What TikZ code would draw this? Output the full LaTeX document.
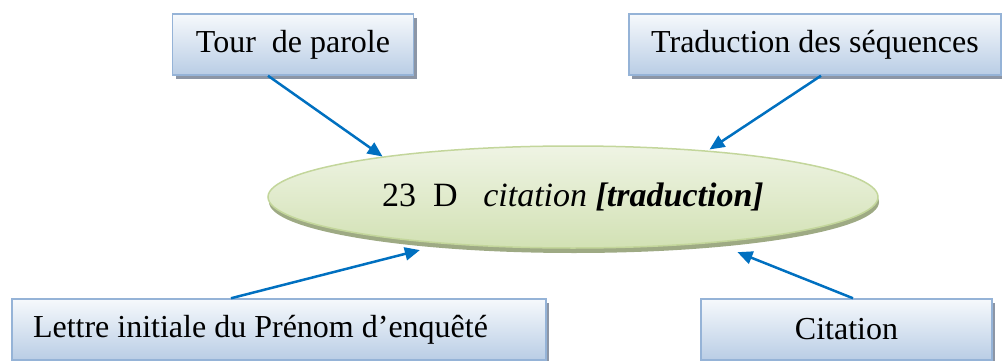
\documentclass[tikz,border=0pt]{standalone}
\usepackage{fontspec}
\setmainfont{Liberation Serif}
\usepackage{xcolor}
\usetikzlibrary{arrows.meta,shapes.geometric,shadows}

\definecolor{boxedge}{RGB}{149,179,215}
\definecolor{boxtop}{RGB}{246,249,252}
\definecolor{boxbot}{RGB}{185,205,229}
\definecolor{boxshade}{RGB}{140,150,166}
\definecolor{ovaledge}{RGB}{195,214,155}
\definecolor{ovaltop}{RGB}{239,244,228}
\definecolor{ovalbot}{RGB}{210,225,180}
\definecolor{ovalshade}{RGB}{158,170,132}
\definecolor{linkblue}{RGB}{0,112,192}

\begin{document}
\begin{tikzpicture}[x=1pt,y=1pt,
    notebox/.style={rectangle,draw=boxedge,line width=1.5pt,
        top color=boxtop,bottom color=boxbot,
        minimum height=61pt,inner sep=0pt,
        font=\fontsize{32}{38}\selectfont,
        drop shadow={shadow xshift=3pt,shadow yshift=-4pt,fill=boxshade,opacity=1}},
    mainoval/.style={ellipse,draw=ovaledge,line width=1.5pt,
        top color=ovaltop,bottom color=ovalbot,
        minimum width=610pt,minimum height=102pt,inner sep=0pt,
        font=\fontsize{34}{40}\selectfont,
        drop shadow={shadow xshift=1pt,shadow yshift=-5pt,fill=ovalshade,opacity=1}},
    link/.style={draw=linkblue,line width=2.5pt,
        -{Triangle[length=15pt,width=13pt]}}]
  \useasboundingbox (0,0) rectangle (1002,360);

  \node[mainoval] (centre) at (573,163)
      {23\ \ D\ \ \ \textit{citation} \textbf{\textit{[traduction]}}};

  \node[notebox,minimum width=241pt] (tour) at (293,315.5) {Tour\ \ de parole};
  \node[notebox,minimum width=372pt] (trad) at (815,315.5) {Traduction des séquences};
  \node[notebox,minimum width=534pt,text width=492pt,align=flush left] (lettre) at (279,30.5)
      {Lettre initiale du Prénom d’enquêté};
  \node[notebox,minimum width=291pt] (cit) at (846.5,30.5) {Citation};

  % fleches vers l'ellipse
  \draw[link] ([xshift=-25pt]tour.south) -- (centre.168);
  \draw[link,shorten >=2pt] ([xshift=6pt]trad.south) -- (centre.19);
  \draw[link,shorten >=25pt] ([xshift=-48pt]lettre.north) -- (centre.200.7);
  \draw[link,shorten >=25pt] ([xshift=6.5pt]cit.north) -- (centre.342);
\end{tikzpicture}
\end{document}
